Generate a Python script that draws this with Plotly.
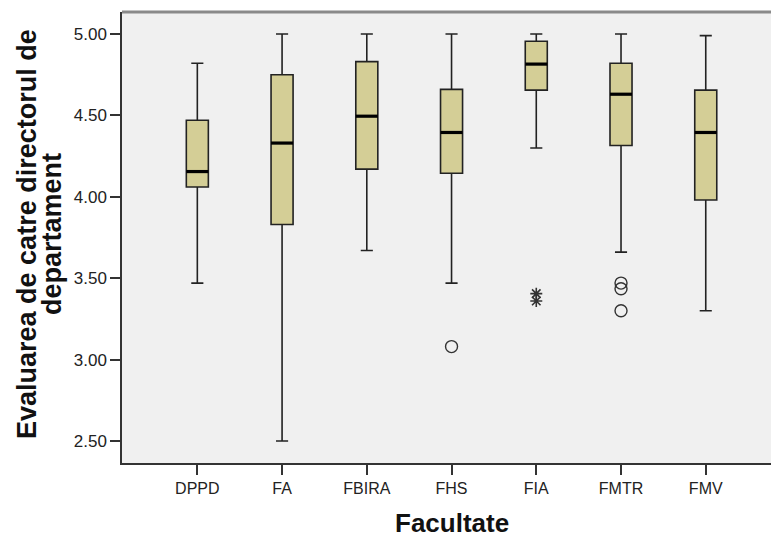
import plotly.graph_objects as go

categories = ["DPPD", "FA", "FBIRA", "FHS", "FIA", "FMTR", "FMV"]
upper_whisker = [4.82, 5.00, 5.00, 5.00, 5.00, 5.00, 4.99]
q3 = [4.47, 4.75, 4.83, 4.66, 4.955, 4.82, 4.655]
median = [4.155, 4.33, 4.495, 4.395, 4.815, 4.63, 4.395]
q1 = [4.06, 3.83, 4.17, 4.145, 4.655, 4.315, 3.98]
lower_whisker = [3.47, 2.50, 3.67, 3.47, 4.30, 3.66, 3.30]

# outliers (circles) and extreme values (asterisks)
outlier_cat = ["FHS", "FMTR", "FMTR", "FMTR"]
outlier_val = [3.08, 3.47, 3.435, 3.30]
extreme_cat = ["FIA", "FIA"]
extreme_val = [3.405, 3.36]

x_title = "Facultate"
y_title_lines = ["Evaluarea de catre directorul de", "departament"]

box_fill = "#D4CE96"
box_width = 0.26

W, H = 771, 540
L, R, T, B = 122, 0, 12, 77
PW = W - L - R
PH = H - T - B

idx = list(range(len(categories)))
pos = {c: i for i, c in enumerate(categories)}

fig = go.Figure()
fig.add_trace(go.Box(
    x=idx, q1=q1, median=median, q3=q3,
    lowerfence=lower_whisker, upperfence=upper_whisker,
    width=box_width, whiskerwidth=0.55,
    fillcolor=box_fill, line=dict(color="#222222", width=1.6),
    boxpoints=False, showlegend=False, hoverinfo="y",
))

# thick median lines
mx, my = [], []
for i, m in zip(idx, median):
    mx += [i - box_width / 2, i + box_width / 2, None]
    my += [m, m, None]
fig.add_trace(go.Scatter(x=mx, y=my, mode="lines",
                         line=dict(color="#000000", width=3.2),
                         showlegend=False, hoverinfo="skip"))

fig.add_trace(go.Scatter(
    x=[pos[c] for c in outlier_cat], y=outlier_val, mode="markers",
    marker=dict(symbol="circle-open", size=12, color="#333333",
                line=dict(width=1.4, color="#333333")),
    showlegend=False))
fig.add_trace(go.Scatter(
    x=[pos[c] for c in extreme_cat], y=extreme_val, mode="markers",
    marker=dict(symbol="asterisk-open", size=10, color="#333333",
                line=dict(width=1.6, color="#333333")),
    showlegend=False))

fig.add_shape(type="line", xref="paper", yref="paper", x0=0, x1=1, y0=1, y1=1,
              line=dict(color="#8a8a8a", width=3))

# x-axis title
fig.add_annotation(text="<b>%s</b>" % x_title, xref="paper", yref="paper",
                   x=(452 - L) / PW, y=-(539.5 - (H - B)) / PH,
                   yanchor="bottom", xanchor="center", showarrow=False,
                   font=dict(family="Liberation Sans, Arial, sans-serif", size=26, color="#111111"))
# y-axis title lines
for line_txt, cx in zip(y_title_lines, [27, 52]):
    fig.add_annotation(text="<b>%s</b>" % line_txt, xref="paper", yref="paper",
                       x=(cx - L) / PW, y=(H - B - 234) / PH,
                       xanchor="center", yanchor="middle", textangle=-90,
                       showarrow=False,
                       font=dict(family="Liberation Sans, Arial, sans-serif", size=27, color="#111111"))

fig.update_layout(
    width=W, height=H,
    margin=dict(l=L, r=R, t=T, b=B),
    paper_bgcolor="white", plot_bgcolor="#F0F0F0",
    font=dict(family="Liberation Sans, Arial, sans-serif", color="#222222"),
    xaxis=dict(
        range=[-0.889, 6.77], tickmode="array", tickvals=idx, ticktext=categories,
        showgrid=False, zeroline=False, showline=True, linecolor="#333333", linewidth=1.5,
        ticks="outside", ticklen=10, tickwidth=1.5, tickcolor="#333333",
        tickfont=dict(size=16, color="#222222"), automargin=False,
    ),
    yaxis=dict(
        range=[2.365, 5.135], tickvals=[2.5, 3.0, 3.5, 4.0, 4.5, 5.0], tickformat=".2f",
        showgrid=False, zeroline=False, showline=True, linecolor="#333333", linewidth=1.5,
        ticks="outside", ticklen=10, tickwidth=1.5, tickcolor="#333333",
        tickfont=dict(size=17, color="#222222"), automargin=False,
    ),
)

fig.write_html("out.html", config={"displayModeBar": False},
               post_script="document.body.style.margin='0';document.body.style.overflow='hidden';")
